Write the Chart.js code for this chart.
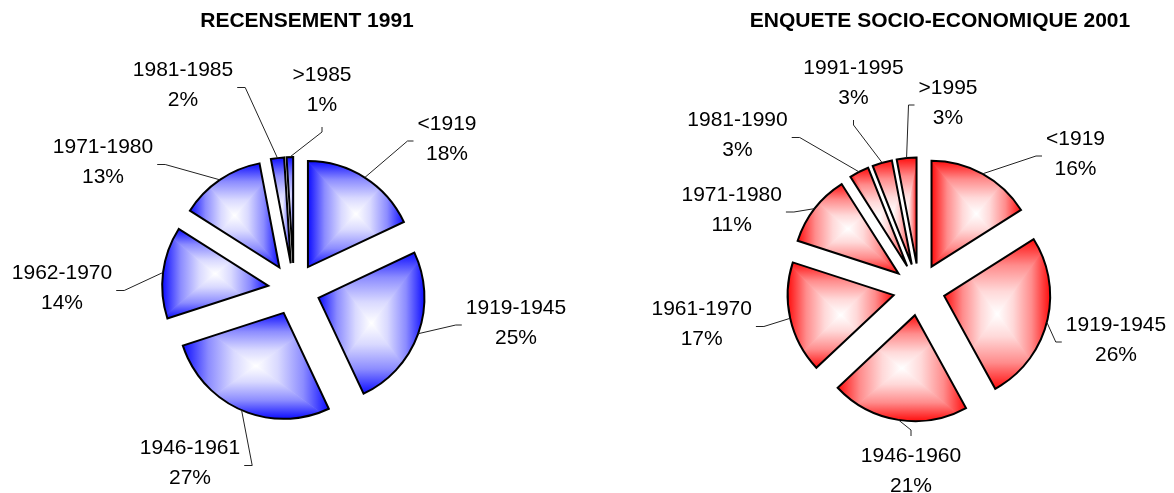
<!DOCTYPE html>
<html>
<head>
<meta charset="utf-8">
<script src="https://cdn.jsdelivr.net/npm/chart.js@4.4.1/dist/chart.umd.min.js"></script>
<style>
  html, body { margin: 0; padding: 0; background: #fff; }
  #wrap { position: relative; width: 1174px; height: 493px; overflow: hidden; }
  .pane { position: absolute; top: 0; width: 587px; height: 493px; }
</style>
</head>
<body>
<div id="wrap">
  <div class="pane" style="left:0"><canvas id="pie1991"></canvas></div>
  <div class="pane" style="left:587px"><canvas id="pie2001"></canvas></div>
</div>
<script>
(function () {
  "use strict";

  // Construction period shares, census 1991
  const CATS_1991 = ["<1919", "1919-1945", "1946-1961", "1962-1970", "1971-1980", "1981-1985", ">1985"];
  const PCT_1991 = [18, 25, 27, 14, 13, 2, 1];

  // Construction period shares, socio-economic survey 2001
  const CATS_2001 = ["<1919", "1919-1945", "1946-1960", "1961-1970", "1971-1980", "1981-1990", "1991-1995", ">1995"];
  const PCT_2001 = [16, 26, 21, 17, 11, 3, 3, 3];

  // label block centre relative to pie centre, and the side the leader line attaches to
  const LABELS_1991 = [
    [153, -150, "l"], [222, 34, "l"], [-104, 174.5, "r"], [-232, -0.5, "r"],
    [-191, -126.5, "r"], [-111, -203.5, "r"], [28, -199, "b"]
  ];
  const LABELS_2001 = [
    [156.5, -135.5, "l"], [197, 50.5, "l"], [-8, 181.5, "t"], [-217.3, 35, "r"],
    [-187.3, -79.5, "r"], [-181.5, -154, "r"], [-65.5, -206.5, "b"], [29, -186.5, "l"]
  ];

  const BLUE = [0, 0, 255];
  const RED = [255, 0, 0];
  const EXPLODE = 26;
  const RADIUS = 106;
  const FONT = "Arial, 'Liberation Sans', sans-serif";

  function tint(c, f) {
    return "rgb(" + c.map(function (v) { return Math.round(v + (255 - v) * f); }).join(",") + ")";
  }

  // bounding box of a sector, used for the "from centre" rectangular gradient
  function sliceBox(cx, cy, r, a0, a1) {
    const xs = [cx, cx + Math.cos(a0) * r, cx + Math.cos(a1) * r];
    const ys = [cy, cy + Math.sin(a0) * r, cy + Math.sin(a1) * r];
    for (let k = -2; k <= 4; k++) {
      const a = k * Math.PI / 2;
      if (a > a0 && a < a1) {
        xs.push(cx + Math.cos(a) * r);
        ys.push(cy + Math.sin(a) * r);
      }
    }
    return {
      x0: Math.min.apply(null, xs), x1: Math.max.apply(null, xs),
      y0: Math.min.apply(null, ys), y1: Math.max.apply(null, ys)
    };
  }

  function poly(ctx, pts, grad) {
    ctx.beginPath();
    ctx.moveTo(pts[0][0], pts[0][1]);
    for (let i = 1; i < pts.length; i++) ctx.lineTo(pts[i][0], pts[i][1]);
    ctx.closePath();
    ctx.fillStyle = grad;
    ctx.fill();
  }

  function lin(ctx, x0, y0, x1, y1, color) {
    const g = ctx.createLinearGradient(x0, y0, x1, y1);
    g.addColorStop(0, tint(color, 0.05));
    g.addColorStop(0.35, tint(color, 0.55));
    g.addColorStop(0.7, tint(color, 0.85));
    g.addColorStop(1, "#ffffff");
    return g;
  }

  // white in the middle of the box, full colour on its edges
  function fillSquareGradient(ctx, path, b, color) {
    const mx = (b.x0 + b.x1) / 2, my = (b.y0 + b.y1) / 2;
    ctx.save();
    ctx.clip(path);
    poly(ctx, [[b.x0, b.y0], [b.x0, b.y1], [mx, my]], lin(ctx, b.x0, my, mx, my, color));
    poly(ctx, [[b.x1, b.y0], [b.x1, b.y1], [mx, my]], lin(ctx, b.x1, my, mx, my, color));
    poly(ctx, [[b.x0 - 1, b.y0], [b.x1 + 1, b.y0], [mx + 1, my], [mx - 1, my]], lin(ctx, mx, b.y0, mx, my, color));
    poly(ctx, [[b.x0 - 1, b.y1], [b.x1 + 1, b.y1], [mx + 1, my], [mx - 1, my]], lin(ctx, mx, b.y1, mx, my, color));
    ctx.restore();
  }

  function makePiePlugin(spec) {
    return {
      id: "explodedPie",
      beforeDatasetDraw(chart, args) {
        const ctx = chart.ctx;
        args.meta.data.forEach(function (arc) {
          const mid = (arc.startAngle + arc.endAngle) / 2;
          const cx = arc.x + Math.cos(mid) * EXPLODE;
          const cy = arc.y + Math.sin(mid) * EXPLODE;
          const r = arc.outerRadius;
          const path = new Path2D();
          path.moveTo(cx, cy);
          path.arc(cx, cy, r, arc.startAngle, arc.endAngle);
          path.closePath();
          fillSquareGradient(ctx, path, sliceBox(cx, cy, r, arc.startAngle, arc.endAngle), spec.color);
          ctx.save();
          ctx.lineWidth = 2;
          ctx.lineJoin = "miter";
          ctx.strokeStyle = "#000";
          ctx.stroke(path);
          ctx.restore();
        });
        return false;
      },
      afterDraw(chart) {
        const ctx = chart.ctx;
        const arcs = chart.getDatasetMeta(0).data;
        ctx.save();
        ctx.fillStyle = "#000";
        ctx.textAlign = "center";
        ctx.textBaseline = "alphabetic";
        ctx.font = "bold 21px " + FONT;
        ctx.fillText(spec.title, spec.titleX, 27);

        ctx.font = "21px " + FONT;
        ctx.textBaseline = "middle";
        arcs.forEach(function (arc, i) {
          const pos = spec.labels[i];
          const lines = [spec.cats[i], spec.values[i] + "%"];
          const w = Math.max(ctx.measureText(lines[0]).width, ctx.measureText(lines[1]).width);
          const lx = arc.x + pos[0], ly = arc.y + pos[1];
          ctx.fillText(lines[0], lx, ly - 15);
          ctx.fillText(lines[1], lx, ly + 15);

          // leader line from the middle of the outer arc to the label box
          const mid = (arc.startAngle + arc.endAngle) / 2;
          const sx = arc.x + Math.cos(mid) * (EXPLODE + arc.outerRadius);
          const sy = arc.y + Math.sin(mid) * (EXPLODE + arc.outerRadius);
          let ax, ay, ex, ey;
          if (pos[2] === "l") { ax = lx - w / 2 - 4; ay = ly + 2; ex = ax - 6; ey = ay; }
          else if (pos[2] === "r") { ax = lx + w / 2 + 4; ay = ly + 2; ex = ax + 8; ey = ay; }
          else if (pos[2] === "t") { ax = lx; ay = ly - 35; ex = ax; ey = ay - 6; }
          else { ax = lx; ay = ly + 37; ex = ax; ey = ay + 5; }
          ctx.beginPath();
          ctx.moveTo(sx, sy);
          ctx.lineTo(ex, ey);
          ctx.lineTo(ax, ay);
          ctx.lineWidth = 1;
          ctx.strokeStyle = "#222";
          ctx.stroke();
        });
        ctx.restore();
      }
    };
  }

  function makePie(id, spec, padding) {
    return new Chart(document.getElementById(id), {
      type: "pie",
      data: {
        labels: spec.cats,
        datasets: [{ data: spec.values, borderWidth: 0 }]
      },
      options: {
        responsive: true,
        maintainAspectRatio: false,
        animation: false,
        events: [],
        radius: RADIUS,
        layout: { padding: padding },
        plugins: { legend: { display: false }, tooltip: { enabled: false }, title: { display: false } }
      },
      plugins: [makePiePlugin(spec)]
    });
  }

  makePie("pie1991", {
    title: "RECENSEMENT 1991", titleX: 307, color: BLUE,
    cats: CATS_1991, values: PCT_1991, labels: LABELS_1991
  }, { left: 1, right: 0, top: 85, bottom: 0 });

  makePie("pie2001", {
    title: "ENQUETE SOCIO-ECONOMIQUE 2001", titleX: 353, color: RED,
    cats: CATS_2001, values: PCT_2001, labels: LABELS_2001
  }, { left: 77, right: 0, top: 86, bottom: 0 });
})();
</script>
</body>
</html>
